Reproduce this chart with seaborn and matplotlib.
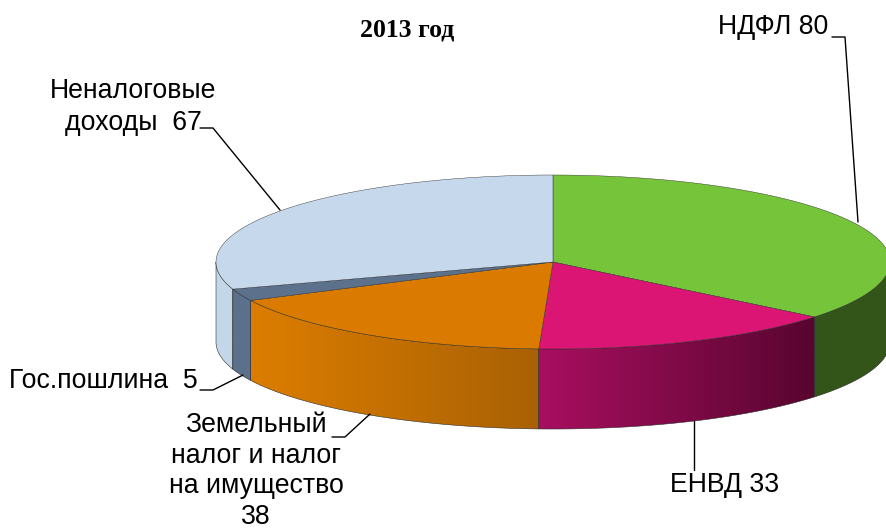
"""
Объёмная круговая диаграмма доходов за 2013 год.
"""
import numpy as np
import seaborn as sns
import matplotlib.pyplot as plt
from matplotlib.colors import to_rgb
from matplotlib.patches import Polygon

sns.set_theme(style='white')
plt.rcParams['font.family'] = ['Liberation Sans', 'DejaVu Sans']

# данные
title = '2013 год'
categories = ['НДФЛ', 'ЕНВД', 'Земельный налог и налог на имущество', 'Гос.пошлина', 'Неналоговые доходы']
values = [80, 33, 38, 5, 67]
top_colors = ['#76c43a', '#db1574', '#da7b00', '#5b718c', '#c6d9ec']
side_left = ['#335519', '#a80f60', '#dc7d00', '#5b718c', '#c3d7ea']
side_right = ['#335519', '#58052f', '#a96105', '#5b718c', '#c3d7ea']
labels = ['НДФЛ 80', 'ЕНВД 33', 'Земельный\nналог и налог\nна имущество\n38', 'Гос.пошлина  5', 'Неналоговые\nдоходы  67']

# геометрия диска в пикселях
cx, cy, rx, ry, depth = 553, 262, 337, 87, 80
edge = '#2b2b2b'


def rim(t):
    return cx + rx * np.sin(t), cy - ry * np.cos(t)


fig = plt.figure(figsize=(8.87, 5.30), dpi=100)
ax = fig.add_axes([0, 0, 1, 1])

edges = np.cumsum([0] + values) / sum(values) * 2 * np.pi

# боковая стенка: градиент слева направо, обрезанный по контуру сектора
for i in range(len(values)):
    a = max(edges[i], np.pi / 2)
    b = min(edges[i + 1], 3 * np.pi / 2)
    if a >= b:
        continue
    xs, ys = rim(np.linspace(a, b, 200))
    outline = np.column_stack([np.r_[xs, xs[::-1]], np.r_[ys, ys[::-1] + depth]])
    patch = Polygon(outline, closed=True, fc='none', ec=edge, lw=0.4, zorder=3)
    ax.add_patch(patch)
    grad = np.linspace(to_rgb(side_left[i]), to_rgb(side_right[i]), 256)[np.newaxis, :, :]
    im = ax.imshow(grad, extent=[xs.min(), xs.max(), ys.max() + depth, ys.min()],
                   aspect='auto', zorder=2, interpolation='bilinear')
    im.set_clip_path(patch)

ax.set_xlim(0, 887)
ax.set_ylim(530, 0)
ax.axis('off')

# верх диска
for i, color in enumerate(top_colors):
    xs, ys = rim(np.linspace(edges[i], edges[i + 1], 200))
    ax.fill(np.r_[cx, xs], np.r_[cy, ys], fc=color, ec=edge, lw=0.3, zorder=4)

# выноски
ax.plot([858, 845, 832], [222, 37, 37], color='black', lw=1, zorder=5)
ax.plot([694, 694], [421, 470], color='black', lw=1, zorder=5)
ax.plot([370, 345, 332], [414, 437, 437], color='black', lw=1, zorder=5)
ax.plot([243, 213, 200], [375, 390, 390], color='black', lw=1, zorder=5)
ax.plot([280, 213, 200], [210, 128, 128], color='black', lw=1, zorder=5)

# подписи
fs = 19.2
ax.text(773, 27, labels[0], ha='center', va='center', fontsize=fs, color='black')
ax.text(725, 485, labels[1], ha='center', va='center', fontsize=fs, color='black')
ax.text(256, 471, labels[2], ha='center', va='center', fontsize=fs, color='black', linespacing=1.24)
ax.text(103.5, 381, labels[3], ha='center', va='center', fontsize=fs, color='black')
ax.text(133, 107, labels[4], ha='center', va='center', fontsize=fs, color='black', linespacing=1.34)
ax.text(407, 30, title, ha='center', va='center', fontsize=18.5, fontweight='bold',
        family=['Liberation Serif', 'DejaVu Serif'], color='black')

plt.savefig('out.png', dpi=100)
